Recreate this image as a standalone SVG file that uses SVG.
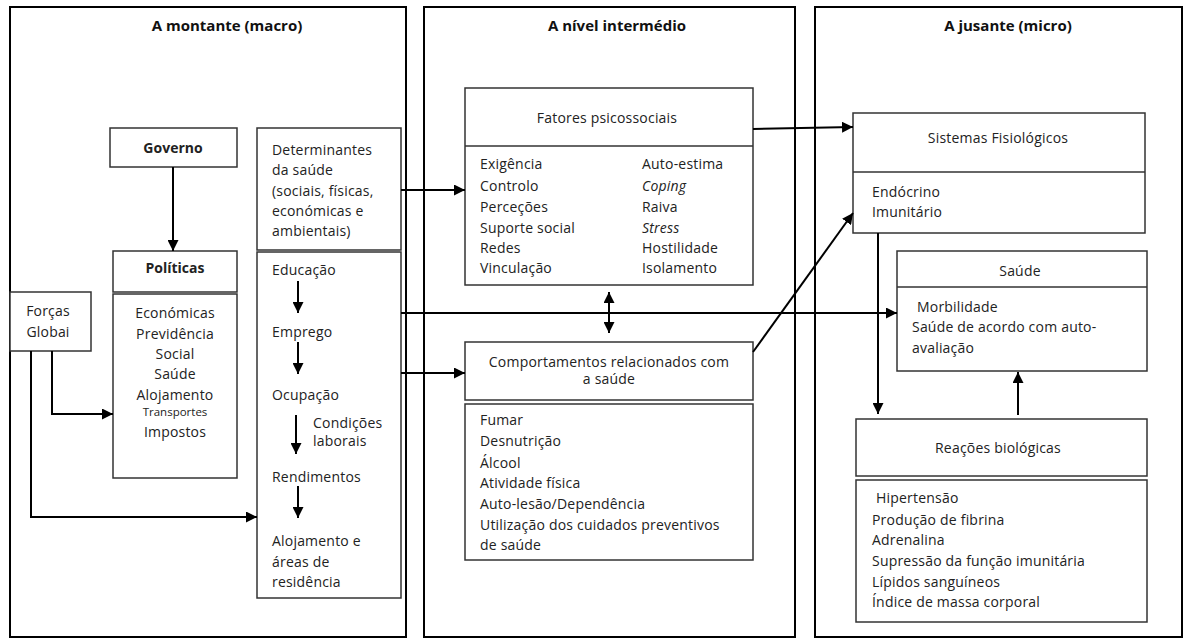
<svg xmlns="http://www.w3.org/2000/svg" width="1184" height="639" viewBox="0 0 1184 639">
  <style>
    .panel { fill: none; stroke: #000; stroke-width: 2; }
    .box { fill: #fff; stroke: #333; stroke-width: 1.5; }
    .hdr { font-family: "Open Sans", "Liberation Sans", sans-serif; font-size: 15px; font-weight: bold; fill: #111; text-anchor: middle; }
    .t { font-family: "Open Sans", "Liberation Sans", sans-serif; font-size: 14px; letter-spacing: 0.2px; fill: #222; }
    .c { text-anchor: middle; }
    .b { font-weight: bold; letter-spacing: 0; }
    .i { font-style: italic; }
    .sm { font-size: 11.5px; letter-spacing: 0; }
    .con { fill: none; stroke: #000; stroke-width: 2; }
  </style>
  <defs>
    <marker id="ah" viewBox="0 0 10 10" refX="10" refY="5" markerWidth="11" markerHeight="11" markerUnits="userSpaceOnUse" orient="auto-start-reverse">
      <path d="M0,0 L10,5 L0,10 z" fill="#000"/>
    </marker>
  </defs>
  <rect width="1184" height="639" fill="#fff"/>

  <!-- three level panels -->
  <g id="panel-macro">
    <rect class="panel" x="10" y="7" width="396" height="630"/>
    <text class="hdr" x="227" y="31">A montante (macro)</text>
  </g>
  <g id="panel-intermedio">
    <rect class="panel" x="424" y="7" width="371" height="630"/>
    <text class="hdr" x="617" y="31">A nível intermédio</text>
  </g>
  <g id="panel-micro">
    <rect class="panel" x="815" y="7" width="367" height="630"/>
    <text class="hdr" x="1008" y="31">A jusante (micro)</text>
  </g>

  <!-- macro level nodes -->
  <g id="governo">
    <rect class="box" x="110" y="128" width="127" height="39"/>
    <text class="t c b" x="173" y="153">Governo</text>
  </g>
  <g id="politicas">
    <rect class="box" x="113" y="251" width="124" height="41"/>
    <text class="t c b" x="175" y="273">Políticas</text>
    <rect class="box" x="113" y="294" width="124" height="184"/>
    <text class="t c" x="175" y="318">Económicas</text>
    <text class="t c" x="175" y="339">Previdência</text>
    <text class="t c" x="175" y="359">Social</text>
    <text class="t c" x="175" y="379">Saúde</text>
    <text class="t c" x="175" y="400">Alojamento</text>
    <text class="t c sm" x="175" y="416">Transportes</text>
    <text class="t c" x="175" y="437">Impostos</text>
  </g>
  <g id="forcas-globai">
    <rect class="box" x="10" y="292" width="81" height="59"/>
    <text class="t c" x="48" y="316">Forças</text>
    <text class="t c" x="48" y="337">Globai</text>
  </g>
  <g id="determinantes">
    <rect class="box" x="257" y="128" width="144" height="122"/>
    <text class="t" x="272" y="155">Determinantes</text>
    <text class="t" x="272" y="175">da saúde</text>
    <text class="t" x="272" y="196">(sociais, físicas,</text>
    <text class="t" x="272" y="216">económicas e</text>
    <text class="t" x="272" y="236">ambientais)</text>
    <rect class="box" x="257" y="252" width="144" height="346"/>
    <text class="t" x="272" y="275">Educação</text>
    <text class="t" x="272" y="337">Emprego</text>
    <text class="t" x="272" y="400">Ocupação</text>
    <text class="t" x="313" y="428">Condições</text>
    <text class="t" x="313" y="446">laborais</text>
    <text class="t" x="272" y="482">Rendimentos</text>
    <text class="t" x="272" y="546">Alojamento e</text>
    <text class="t" x="272" y="567">áreas de</text>
    <text class="t" x="272" y="587">residência</text>
  </g>

  <!-- intermediate level nodes -->
  <g id="fatores-psicossociais">
    <rect class="box" x="465" y="88" width="288" height="197"/>
    <line x1="465" y1="146" x2="753" y2="146" stroke="#333" stroke-width="1.5"/>
    <text class="t c" x="607" y="123">Fatores psicossociais</text>
    <text class="t" x="480" y="169">Exigência</text>
    <text class="t" x="480" y="191">Controlo</text>
    <text class="t" x="480" y="212">Perceções</text>
    <text class="t" x="480" y="233">Suporte social</text>
    <text class="t" x="480" y="253">Redes</text>
    <text class="t" x="480" y="273">Vinculação</text>
    <text class="t" x="642" y="169">Auto-estima</text>
    <text class="t i" x="642" y="191">Coping</text>
    <text class="t" x="642" y="212">Raiva</text>
    <text class="t i" x="642" y="233">Stress</text>
    <text class="t" x="642" y="253">Hostilidade</text>
    <text class="t" x="642" y="273">Isolamento</text>
  </g>
  <g id="comportamentos">
    <rect class="box" x="465" y="342" width="288" height="58"/>
    <text class="t c" x="609" y="367">Comportamentos relacionados com</text>
    <text class="t c" x="609" y="384">a saúde</text>
    <rect class="box" x="465" y="404" width="288" height="156"/>
    <text class="t" x="480" y="425">Fumar</text>
    <text class="t" x="480" y="446">Desnutrição</text>
    <text class="t" x="480" y="468">Álcool</text>
    <text class="t" x="480" y="488">Atividade física</text>
    <text class="t" x="480" y="509">Auto-lesão/Dependência</text>
    <text class="t" x="480" y="530">Utilização dos cuidados preventivos</text>
    <text class="t" x="480" y="550">de saúde</text>
  </g>

  <!-- micro level nodes -->
  <g id="sistemas-fisiologicos">
    <rect class="box" x="853" y="113" width="292" height="120"/>
    <line x1="853" y1="172" x2="1145" y2="172" stroke="#333" stroke-width="1.5"/>
    <text class="t c" x="998" y="143">Sistemas Fisiológicos</text>
    <text class="t" x="872" y="197">Endócrino</text>
    <text class="t" x="872" y="217">Imunitário</text>
  </g>
  <g id="saude">
    <rect class="box" x="897" y="251" width="250" height="120"/>
    <line x1="897" y1="287" x2="1147" y2="287" stroke="#333" stroke-width="1.5"/>
    <text class="t c" x="1020" y="276">Saúde</text>
    <text class="t" x="917" y="312">Morbilidade</text>
    <text class="t" x="912" y="332">Saúde de acordo com auto-</text>
    <text class="t" x="912" y="353">avaliação</text>
  </g>
  <g id="reacoes-biologicas">
    <rect class="box" x="856" y="419" width="291" height="57"/>
    <text class="t c" x="998" y="453">Reações biológicas</text>
    <rect class="box" x="856" y="480" width="291" height="142"/>
    <text class="t" x="876" y="503">Hipertensão</text>
    <text class="t" x="872" y="525">Produção de fibrina</text>
    <text class="t" x="872" y="545">Adrenalina</text>
    <text class="t" x="872" y="566">Supressão da função imunitária</text>
    <text class="t" x="872" y="587">Lípidos sanguíneos</text>
    <text class="t" x="872" y="607">Índice de massa corporal</text>
  </g>

  <!-- connectors -->
  <g id="connectors">
    <line class="con" x1="173" y1="167" x2="173" y2="251" marker-end="url(#ah)"/>
    <polyline class="con" points="52,351 52,414 113,414" marker-end="url(#ah)"/>
    <polyline class="con" points="31,351 31,517 257,517" marker-end="url(#ah)"/>
    <line class="con" x1="298" y1="281" x2="298" y2="313" marker-end="url(#ah)"/>
    <line class="con" x1="298" y1="342" x2="298" y2="374" marker-end="url(#ah)"/>
    <line class="con" x1="296" y1="415" x2="296" y2="454" marker-end="url(#ah)"/>
    <line class="con" x1="298" y1="486" x2="298" y2="518" marker-end="url(#ah)"/>
    <line class="con" x1="401" y1="190" x2="465" y2="190" marker-end="url(#ah)"/>
    <line class="con" x1="401" y1="313" x2="897" y2="313" marker-end="url(#ah)"/>
    <line class="con" x1="401" y1="373" x2="465" y2="373" marker-end="url(#ah)"/>
    <line class="con" x1="609" y1="292" x2="609" y2="333" marker-start="url(#ah)" marker-end="url(#ah)"/>
    <line class="con" x1="753" y1="129" x2="853" y2="127" marker-end="url(#ah)"/>
    <line class="con" x1="753" y1="352" x2="853" y2="213" marker-end="url(#ah)"/>
    <line class="con" x1="878" y1="233" x2="878" y2="414" marker-end="url(#ah)"/>
    <line class="con" x1="1018" y1="415" x2="1018" y2="372" marker-end="url(#ah)"/>
  </g>
</svg>
